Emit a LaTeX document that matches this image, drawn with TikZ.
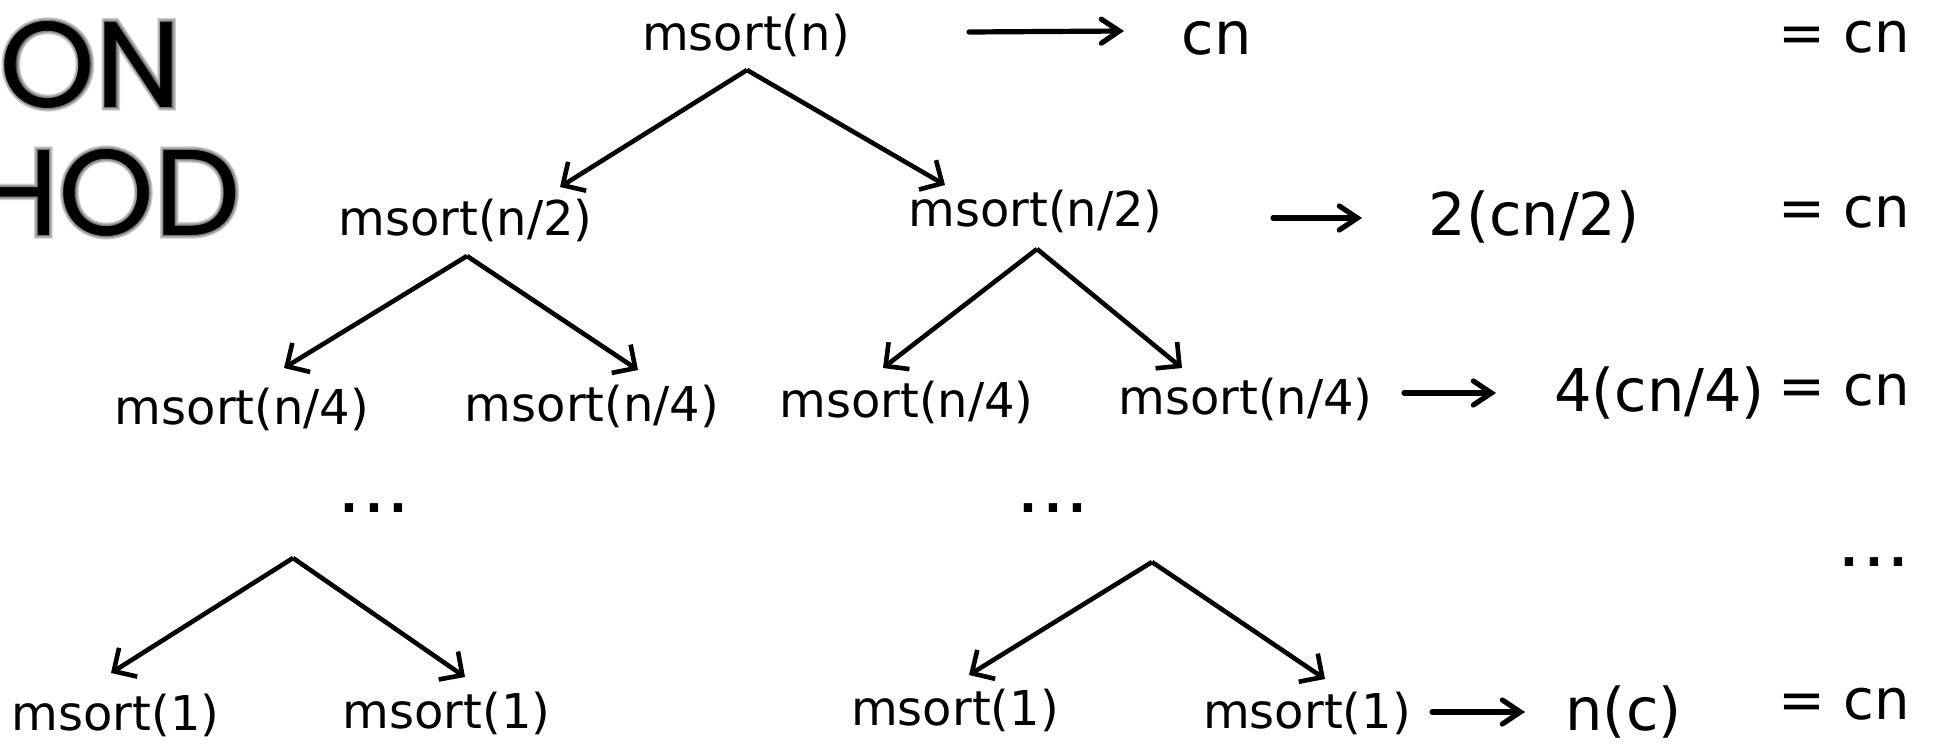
\documentclass[tikz,border=0pt]{standalone}
\usepackage{fontspec}
\setmainfont{DejaVu Sans}
\newfontfamily\headfont{Poppins}
% emboldened versions of the heading face, stacked faintly to form a soft halo
\newfontfamily\haloafont[FakeBold=6]{Poppins}
\newfontfamily\halobfont[FakeBold=4]{Poppins}
\newfontfamily\halocfont[FakeBold=2]{Poppins}
\usetikzlibrary{arrows.meta}
\newcommand\dotrow{\bfseries.\kern3.5pt.\kern3.5pt.}
\begin{document}
\begin{tikzpicture}[x=0.5pt,y=-0.5pt,
  call/.style={font=\fontsize{24}{28}\selectfont, inner sep=0pt},
  cost/.style={font=\fontsize{29.5}{34}\selectfont, inner sep=0pt},
  total/.style={font=\fontsize{28}{32}\selectfont, inner sep=0pt, anchor=east},
  gap/.style={font=\fontsize{23.5}{28}\selectfont, inner sep=0pt, anchor=base},
  split/.style={line width=2.3pt, -{Straight Barb[length=8.5pt,width=17pt]}},
  maps/.style={line width=2.6pt, line cap=round,
    -{Straight Barb[length=9pt,width=12pt,line cap=round]}},
  head/.style={font=\headfont\fontsize{61}{70}\selectfont, inner sep=0pt, anchor=base east},
  halo/.style={head, text opacity=0.2},
]
\fill[white] (0,0) rectangle (1936,745);
\useasboundingbox (0,0) rectangle (1936,745);
\clip (0,0) rectangle (1936,745);

% heading fragment with its halo
\foreach \f/\k in {\haloafont/a,\halobfont/b,\halocfont/c}{
  \node[halo, font=\f\fontsize{61}{70}\selectfont] (haloOn\k) at (182,107) {ON};
  \node[halo, font=\f\fontsize{61}{70}\selectfont] (haloHod\k) at (241,235) {HOD};
}
\node[head] (tOn) at (182,107) {ON};
\node[head] (tHod) at (241,235) {HOD};

% recursion tree
\node[call] (r)   at (746,35)    {msort(n)};
\node[call] (l2a) at (465.5,220) {msort(n/2)};
\node[call] (l2b) at (1035.5,211) {msort(n/2)};
\node[call] (l3a) at (242,409)   {msort(n/4)};
\node[call] (l3b) at (592,406)   {msort(n/4)};
\node[call] (l3c) at (906.5,402.5) {msort(n/4)};
\node[call] (l3d) at (1245.5,399) {msort(n/4)};
\node[gap]  (dl)  at (374,512.5) {\dotrow};
\node[gap]  (dr)  at (1053,512.5) {\dotrow};
\node[call] (l5a) at (115.5,715) {msort(1)};
\node[call] (l5b) at (446.5,713) {msort(1)};
\node[call] (l5c) at (955,710.5) {msort(1)};
\node[call] (l5d) at (1307,713)  {msort(1)};

\coordinate (ap0) at ([shift={(1,35)}]r.center);
\coordinate (ap1) at ([shift={(1.5,36)}]l2a.center);
\coordinate (ap2) at ([shift={(1.5,38)}]l2b.center);
\coordinate (ap3) at (293,558);
\coordinate (ap4) at (1152,562);

\draw[split] (ap0) -- ([shift={(94.5,-33)}]l2a.center);
\draw[split] (ap0) -- ([shift={(-90.5,-26)}]l2b.center);
\draw[split] (ap1) -- ([shift={(42,-41)}]l3a.center);
\draw[split] (ap1) -- ([shift={(46,-36)}]l3b.center);
\draw[split] (ap2) -- ([shift={(-23.5,-34.5)}]l3c.center);
\draw[split] (ap2) -- ([shift={(-63.5,-31)}]l3d.center);
\draw[split] (ap3) -- ([shift={(-4.5,-42)}]l5a.center);
\draw[split] (ap3) -- ([shift={(18.5,-36)}]l5b.center);
\draw[split] (ap4) -- ([shift={(14,-35.5)}]l5c.center);
\draw[split] (ap4) -- ([shift={(18,-34)}]l5d.center);

% cost of each level
\node[cost] (c1) at (1216.5,38) {cn};
\node[cost] (c2) at (1534,217)  {2(cn/2)};
\node[cost] (c3) at (1659.5,393) {4(cn/4)};
\node[cost] (c5) at (1623.5,712) {n(c)};

\coordinate (h1s) at (969,32);   \coordinate (h1e) at (1124,31);
\coordinate (h2s) at (1273,218); \coordinate (h2e) at (1362,218);
\coordinate (h3s) at (1404,393); \coordinate (h3e) at (1496,393);
\coordinate (h5s) at (1432,712); \coordinate (h5e) at (1525,712);
\draw[maps] (h1s) -- (h1e);
\draw[maps] (h2s) -- (h2e);
\draw[maps] (h3s) -- (h3e);
\draw[maps] (h5s) -- (h5e);

\node[total] (e1) at (1910,37)  {= cn};
\node[total] (e2) at (1910,212) {= cn};
\node[total] (e3) at (1910,390) {= cn};
\node[gap]   (e4) at (1874,566) {\dotrow};
\node[total] (e5) at (1910,704) {= cn};
\end{tikzpicture}
\end{document}
